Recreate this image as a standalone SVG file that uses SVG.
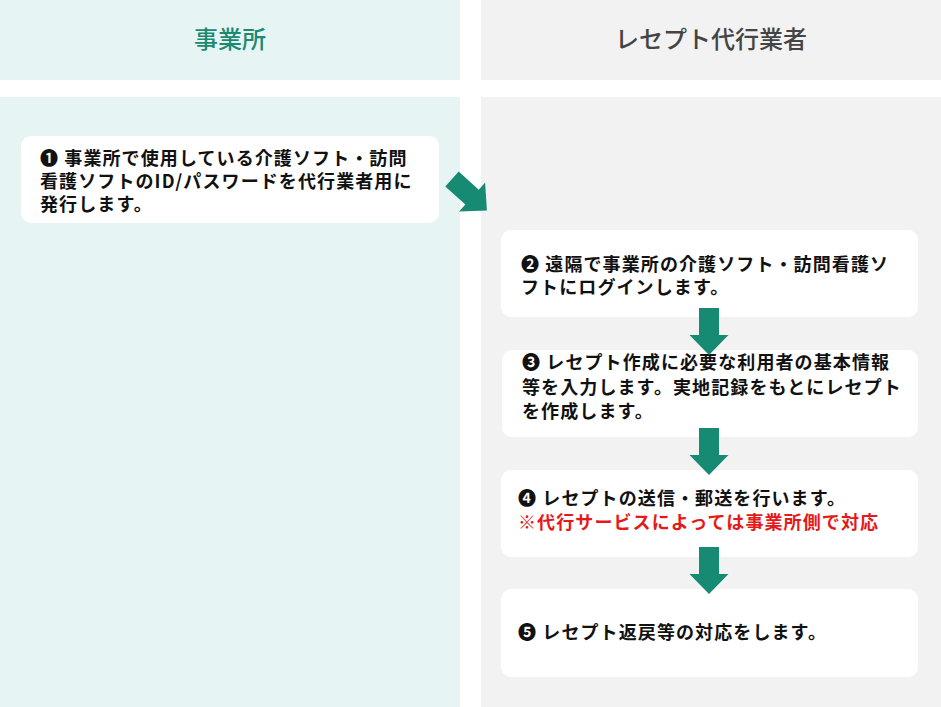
<svg xmlns="http://www.w3.org/2000/svg" width="941" height="707" viewBox="0 0 941 707">
<defs>
<style>
.bgL{fill:#e6f5f4}
.bgR{fill:#f2f2f2}
.box{fill:#ffffff}
.t{font-family:"Noto Sans CJK JP","Noto Sans",sans-serif;font-size:18px;font-weight:bold;fill:#111111;letter-spacing:1.1px}
.red{fill:#e61919}
.h{font-family:"Noto Sans CJK JP","Noto Sans",sans-serif;font-size:24px;font-weight:500;text-anchor:middle}
.arr{fill:#168a72}
</style>
<path id="arrow" d="M-10,0 H10 V27 H19.5 L0,47 L-19.5,27 H-10 Z"/>
</defs>
<rect width="941" height="707" fill="#ffffff"/>
<g id="lanes">
<rect class="bgL" x="0" y="0" width="460" height="80"/>
<rect class="bgR" x="481" y="0" width="460" height="80"/>
<rect class="bgL" x="0" y="97" width="460" height="610"/>
<rect class="bgR" x="481" y="97" width="460" height="610"/>
<text class="h" x="230" y="48" fill="#1a8a73">事業所</text>
<text class="h" x="711" y="48" fill="#444444">レセプト代行業者</text>
</g>
<g id="node1">
<rect class="box" x="21" y="136" width="418" height="87" rx="10"/>
<text class="t" x="40" y="165">❶ 事業所で使用している介護ソフト・訪問</text>
<text class="t" x="40" y="188">看護ソフトのID/パスワードを代行業者用に</text>
<text class="t" x="40" y="211">発行します。</text>
</g>
<g id="node2">
<rect class="box" x="501" y="230" width="417" height="87" rx="10"/>
<text class="t" x="521" y="271">❷ 遠隔で事業所の介護ソフト・訪問看護ソ</text>
<text class="t" x="521" y="294">フトにログインします。</text>
</g>
<g id="node3">
<rect class="box" x="502" y="350" width="416" height="87" rx="10"/>
<text class="t" x="522" y="369">❸ レセプト作成に必要な利用者の基本情報</text>
<text class="t" x="522" y="394">等を入力します。実地記録をもとにレセプト</text>
<text class="t" x="522" y="418">を作成します。</text>
</g>
<g id="node4">
<rect class="box" x="501" y="470" width="417" height="87" rx="10"/>
<text class="t" x="518" y="505">❹ レセプトの送信・郵送を行います。</text>
<text class="t red" x="518" y="529">※代行サービスによっては事業所側で対応</text>
</g>
<g id="node5">
<rect class="box" x="501" y="589" width="417" height="88" rx="10"/>
<text class="t" x="518" y="639">❺ レセプト返戻等の対応をします。</text>
</g>
<g id="connectors" class="arr">
<use href="#arrow" transform="translate(452,179) rotate(-48)"/>
<use href="#arrow" transform="translate(709,308)"/>
<use href="#arrow" transform="translate(709,428)"/>
<use href="#arrow" transform="translate(709,547)"/>
</g>
</svg>
